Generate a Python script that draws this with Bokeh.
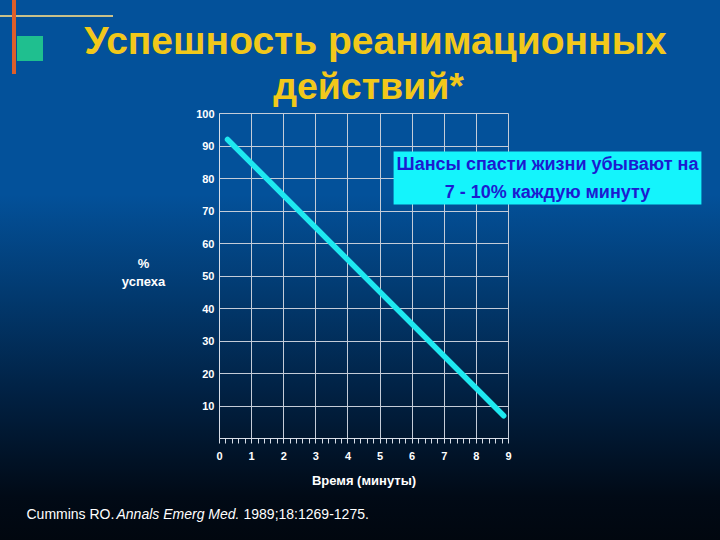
from bokeh.plotting import figure
from bokeh.models import Range1d, FixedTicker, Label
from bokeh.embed import file_html
from bokeh.resources import INLINE

# ---- data ----
minutes = [0.25, 8.85]
success = [92, 7]
x_ticks = [0, 1, 2, 3, 4, 5, 6, 7, 8, 9]
x_minor = [i + f for i in range(9) for f in (0.2, 0.4, 0.6, 0.8)]
y_ticks = [10, 20, 30, 40, 50, 60, 70, 80, 90, 100]

title_lines = ["Успешность реанимационных", "действий*"]
y_label_lines = ["%", "успеха"]
x_label = "Время (минуты)"
note_text = "Шансы спасти жизни убывают на\n7 - 10% каждую минуту"
cite_parts = ["Cummins RO.", "Annals Emerg Med.", "1989;18:1269-1275."]

W, H = 720, 540
FL, FR, FT, FB = 219, 508, 113, 438

# ---- main chart ----
p = figure(width=W, height=H, output_backend="svg", toolbar_location=None,
           x_range=Range1d(0, 9), y_range=Range1d(0, 100),
           min_border_left=FL, min_border_right=W - FR,
           min_border_top=FT, min_border_bottom=H - FB)

bg = ("linear-gradient(#de5f2a,#de5f2a) 12px 0/4px 74px no-repeat,"
      "linear-gradient(#1fbf8f,#1fbf8f) 17px 36px/26px 25px no-repeat,"
      "linear-gradient(#c9c08a,#c9c08a) 0 15px/113px 2px no-repeat,"
      "linear-gradient(to bottom,#03519a 0%,#03519a 36%,#02396e 55%,#012245 72%,#010a16 92%,#01070f 100%)")
p.styles = {"background": bg}
p.border_fill_color = None
p.background_fill_color = None
p.outline_line_color = "#c4ccd8"

grid_c = "#c4ccd8"
p.xgrid.ticker = FixedTicker(ticks=x_ticks)
p.ygrid.ticker = FixedTicker(ticks=y_ticks)
p.xgrid.grid_line_color = grid_c
p.ygrid.grid_line_color = grid_c

xa = p.xaxis[0]
xa.ticker = FixedTicker(ticks=x_ticks, minor_ticks=x_minor)
xa.axis_line_color = "#d8dee8"
xa.major_tick_line_color = "#d8dee8"
xa.minor_tick_line_color = "#d8dee8"
xa.major_tick_in = 0
xa.major_tick_out = 5
xa.minor_tick_in = 0
xa.minor_tick_out = 5
xa.major_label_standoff = 8
xa.major_label_text_color = "white"
xa.major_label_text_font = "Liberation Sans"
xa.major_label_text_font_style = "bold"
xa.major_label_text_font_size = "11px"
xa.axis_label = x_label
xa.axis_label_text_color = "white"
xa.axis_label_text_font = "Liberation Sans"
xa.axis_label_text_font_style = "bold"
xa.axis_label_text_font_size = "13px"
xa.axis_label_standoff = 10

ya = p.yaxis[0]
ya.ticker = FixedTicker(ticks=y_ticks)
ya.axis_line_color = "#d8dee8"
ya.major_tick_line_color = None
ya.minor_tick_line_color = None
ya.major_tick_out = 0
ya.major_label_standoff = 5
ya.major_label_text_color = "white"
ya.major_label_text_font = "Liberation Sans"
ya.major_label_text_font_style = "bold"
ya.major_label_text_font_size = "11px"

p.line(minutes, success, line_color="#1ee8f0", line_width=5.5, line_cap="round")

# ---- transparent overlay (own root) for the slide texts ----
ov = figure(width=W, height=H, output_backend="svg", toolbar_location=None,
            x_range=Range1d(0, W), y_range=Range1d(H, 0),
            x_axis_location=None, y_axis_location=None,
            min_border=0)
ov.grid.visible = False
ov.border_fill_color = None
ov.background_fill_color = None
ov.outline_line_color = None
ov.styles = {"position": "absolute", "left": "0px", "top": "0px",
             "z-index": "1", "pointer-events": "none"}

for txt, cx, cy, fs in zip(title_lines, [375, 368], [40, 85], ["39px", "37.5px"]):
    ov.add_layout(Label(x=cx, y=cy, text=txt, text_align="center",
                        text_baseline="middle", text_color="#f2c81a",
                        text_font="Liberation Sans", text_font_style="bold",
                        text_font_size=fs))

for txt, cy in zip(y_label_lines, [263, 281]):
    ov.add_layout(Label(x=143, y=cy, text=txt, text_align="center",
                        text_baseline="middle", text_color="white",
                        text_font="Liberation Sans", text_font_style="bold",
                        text_font_size="13px"))

ov.add_layout(Label(x=547, y=177.5, text=note_text, text_align="center",
                    text_baseline="middle", text_color="#1c1cd0",
                    text_font="Liberation Sans", text_font_style="bold",
                    text_font_size="18px", text_line_height=1.36,
                    background_fill_color="#14f4fc", padding=3))

for txt, px, style in zip(cite_parts, [26, 116, 243], ["normal", "italic", "normal"]):
    ov.add_layout(Label(x=px, y=513, text=txt, text_align="left",
                        text_baseline="middle", text_color="white",
                        text_font="Liberation Sans", text_font_style=style,
                        text_font_size="14px"))

open("out.html", "w").write(file_html([p, ov], INLINE))
